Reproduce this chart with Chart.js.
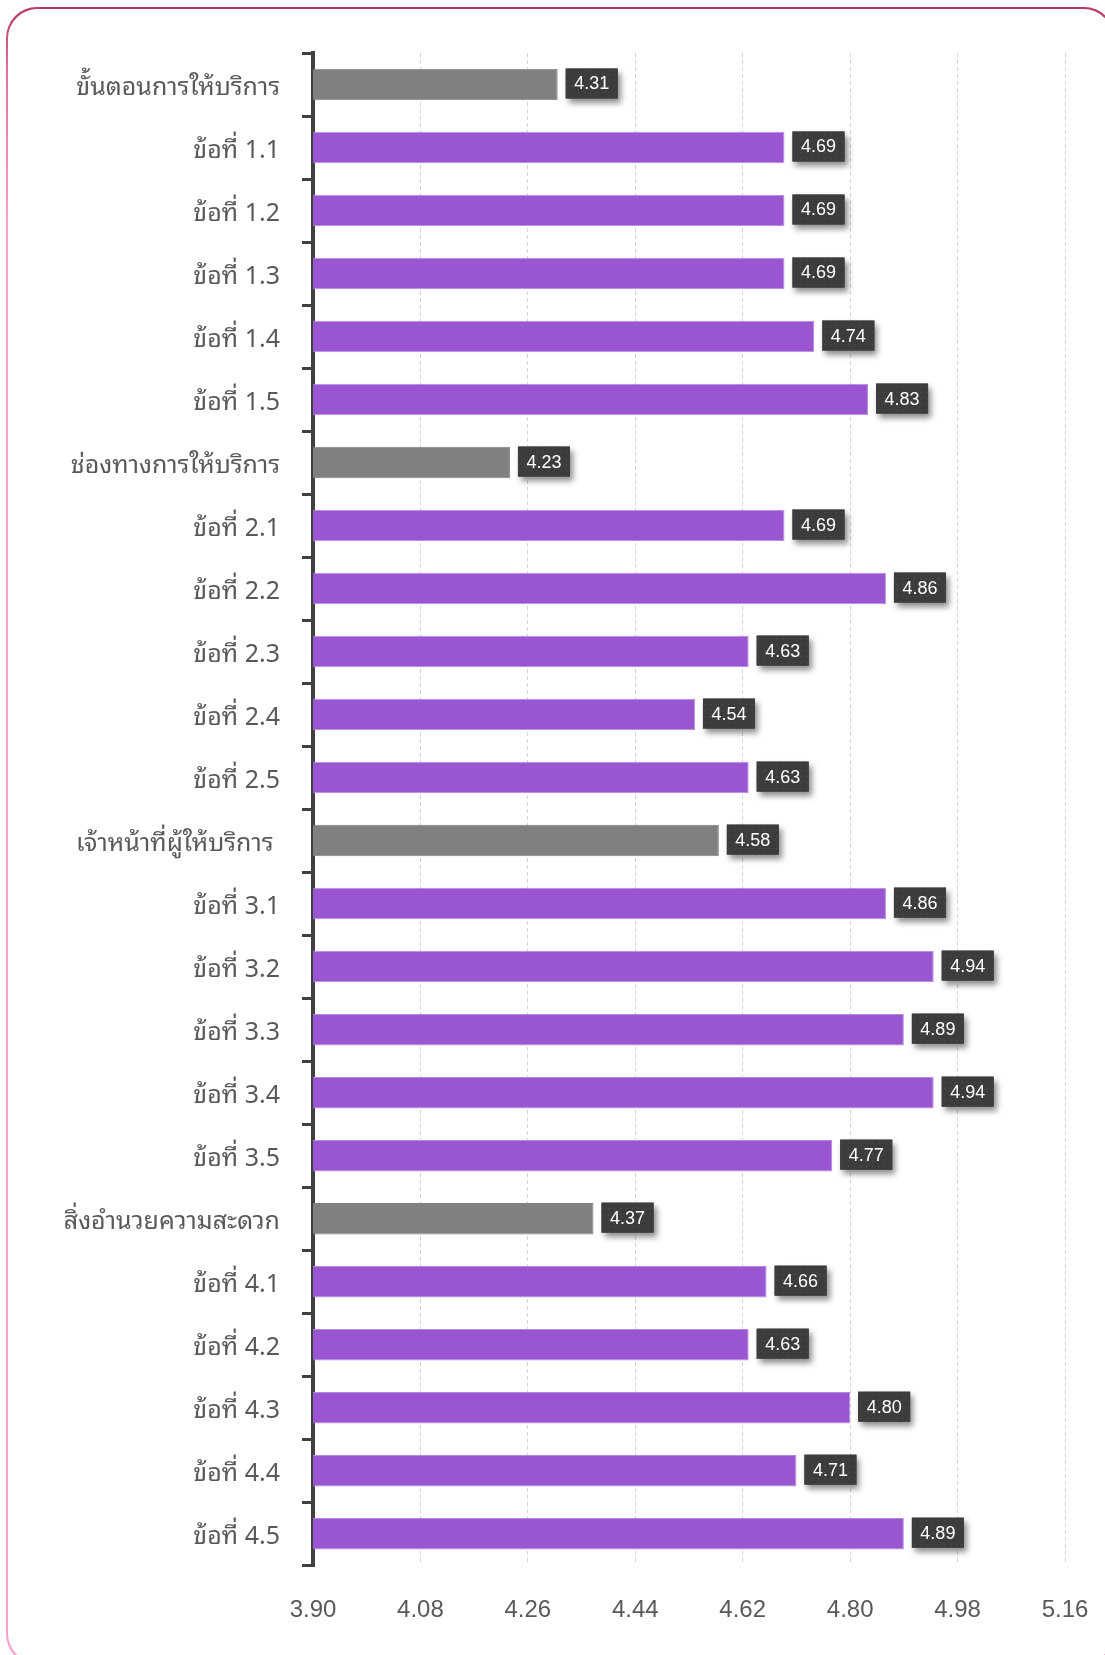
<!DOCTYPE html>
<html>
<head>
<meta charset="utf-8">
<script src="https://cdn.jsdelivr.net/npm/chart.js@4.4.1/dist/chart.umd.min.js"></script>
<style>
  html, body { margin: 0; padding: 0; background: #ffffff; }
  body { width: 1105px; height: 1655px; position: relative; overflow: hidden; }
  #frame {
    position: absolute; left: 6px; top: 7px; width: 1109px; height: 1658px;
    border-radius: 31px; box-sizing: border-box; padding: 1.6px;
    background: linear-gradient(to bottom, #b8385f 0px, #e070a0 60px, #ff9fd0 220px, #ff9fd0 100%);
  }
  #frameInner { width: 100%; height: 100%; background: #ffffff; border-radius: 29.5px; }
  #wrap { position: absolute; left: 0; top: 0; width: 1105px; height: 1655px; }
</style>
</head>
<body>
<div id="frame"><div id="frameInner"></div></div>
<div id="wrap"><canvas id="c" width="1105" height="1655"></canvas></div>
<script>
const categories = [
  'ขั้นตอนการให้บริการ', 'ข้อที่ 1.1', 'ข้อที่ 1.2', 'ข้อที่ 1.3', 'ข้อที่ 1.4', 'ข้อที่ 1.5',
  'ช่องทางการให้บริการ', 'ข้อที่ 2.1', 'ข้อที่ 2.2', 'ข้อที่ 2.3', 'ข้อที่ 2.4', 'ข้อที่ 2.5',
  'เจ้าหน้าที่ผู้ให้บริการ ', 'ข้อที่ 3.1', 'ข้อที่ 3.2', 'ข้อที่ 3.3', 'ข้อที่ 3.4', 'ข้อที่ 3.5',
  'สิ่งอำนวยความสะดวก', 'ข้อที่ 4.1', 'ข้อที่ 4.2', 'ข้อที่ 4.3', 'ข้อที่ 4.4', 'ข้อที่ 4.5'
];
const scores = [
  4.31, 4.69, 4.69, 4.69, 4.74, 4.83,
  4.23, 4.69, 4.86, 4.63, 4.54, 4.63,
  4.58, 4.86, 4.94, 4.89, 4.94, 4.77,
  4.37, 4.66, 4.63, 4.80, 4.71, 4.89
];
const xTickValues = [3.90, 4.08, 4.26, 4.44, 4.62, 4.80, 4.98, 5.16];

const GRAY = '#808080';
const PURPLE = '#9a56d1';
const isHeader = categories.map(c => !c.startsWith('ข้อที่'));

// dotted pattern for value boxes
const pat = document.createElement('canvas');
pat.width = 6; pat.height = 6;
const pctx = pat.getContext('2d');
pctx.fillStyle = '#3c3c3c';
pctx.fillRect(0, 0, 6, 6);
pctx.fillStyle = '#4e4e4e';
pctx.fillRect(2, 2, 1.2, 1.2);

const valueBoxes = {
  id: 'valueBoxes',
  afterDatasetsDraw(chart) {
    const ctx = chart.ctx;
    const meta = chart.getDatasetMeta(0);
    const pattern = ctx.createPattern(pat, 'repeat');
    ctx.save();
    ctx.font = '18px "Liberation Sans", "DejaVu Sans", sans-serif';
    meta.data.forEach((bar, i) => {
      const txt = scores[i].toFixed(2);
      const tw = ctx.measureText(txt).width;
      const w = tw + 17, h = 30;
      const x = bar.x + 8, y = bar.y - h / 2 - 1;
      ctx.save();
      ctx.shadowColor = 'rgba(0,0,0,0.45)';
      ctx.shadowBlur = 6;
      ctx.shadowOffsetX = 3;
      ctx.shadowOffsetY = 4;
      ctx.fillStyle = '#3c3c3c';
      ctx.fillRect(x, y, w, h);
      ctx.restore();
      ctx.fillStyle = pattern;
      ctx.fillRect(x, y, w, h);
      ctx.fillStyle = '#ffffff';
      ctx.textAlign = 'center';
      ctx.textBaseline = 'middle';
      ctx.fillText(txt, x + w / 2, y + h / 2 + 1);
    });
    ctx.restore();
  }
};

new Chart(document.getElementById('c'), {
  type: 'bar',
  data: {
    labels: categories,
    datasets: [{
      data: scores,
      backgroundColor: categories.map((c, i) => isHeader[i] ? GRAY : PURPLE),
      borderColor: categories.map((c, i) => isHeader[i] ? GRAY : '#b58ae2'),
      borderWidth: 1,
      borderSkipped: false,
      categoryPercentage: 1.0,
      barPercentage: 0.5
    }]
  },
  options: {
    indexAxis: 'y',
    responsive: false,
    animation: false,
    events: [],
    layout: { padding: { left: 20, right: 40, top: 53, bottom: 30 } },
    plugins: { legend: { display: false }, tooltip: { enabled: false } },
    scales: {
      x: {
        min: 3.9,
        max: 5.16,
        afterBuildTicks: (scale) => { scale.ticks = xTickValues.map(v => ({ value: v })); },
        ticks: {
          callback: (v) => Number(v).toFixed(2),
          color: '#595959',
          font: { family: '"Liberation Sans", "DejaVu Sans", sans-serif', size: 24 },
          padding: 0,
          maxRotation: 0
        },
        grid: {
          color: '#d6d6d6',
          lineWidth: 1,
          drawTicks: true,
          tickLength: 31,
          tickColor: 'rgba(0,0,0,0)'
        },
        border: { display: false, dash: [4, 3] }
      },
      y: {
        afterFit: (scale) => { scale.width = 293; },
        ticks: {
          color: '#595959',
          font: { family: '"Noto Sans Thai Looped", "Noto Sans Thai", "Noto Sans", "DejaVu Sans", sans-serif', size: 25 },
          padding: 22,
          labelOffset: 3,
          autoSkip: false
        },
        grid: {
          offset: true,
          drawOnChartArea: false,
          drawTicks: true,
          tickLength: 11,
          color: '#404040',
          lineWidth: 3
        },
        border: { display: true, color: '#404040', width: 4 }
      }
    }
  },
  plugins: [valueBoxes]
});
</script>
</body>
</html>
